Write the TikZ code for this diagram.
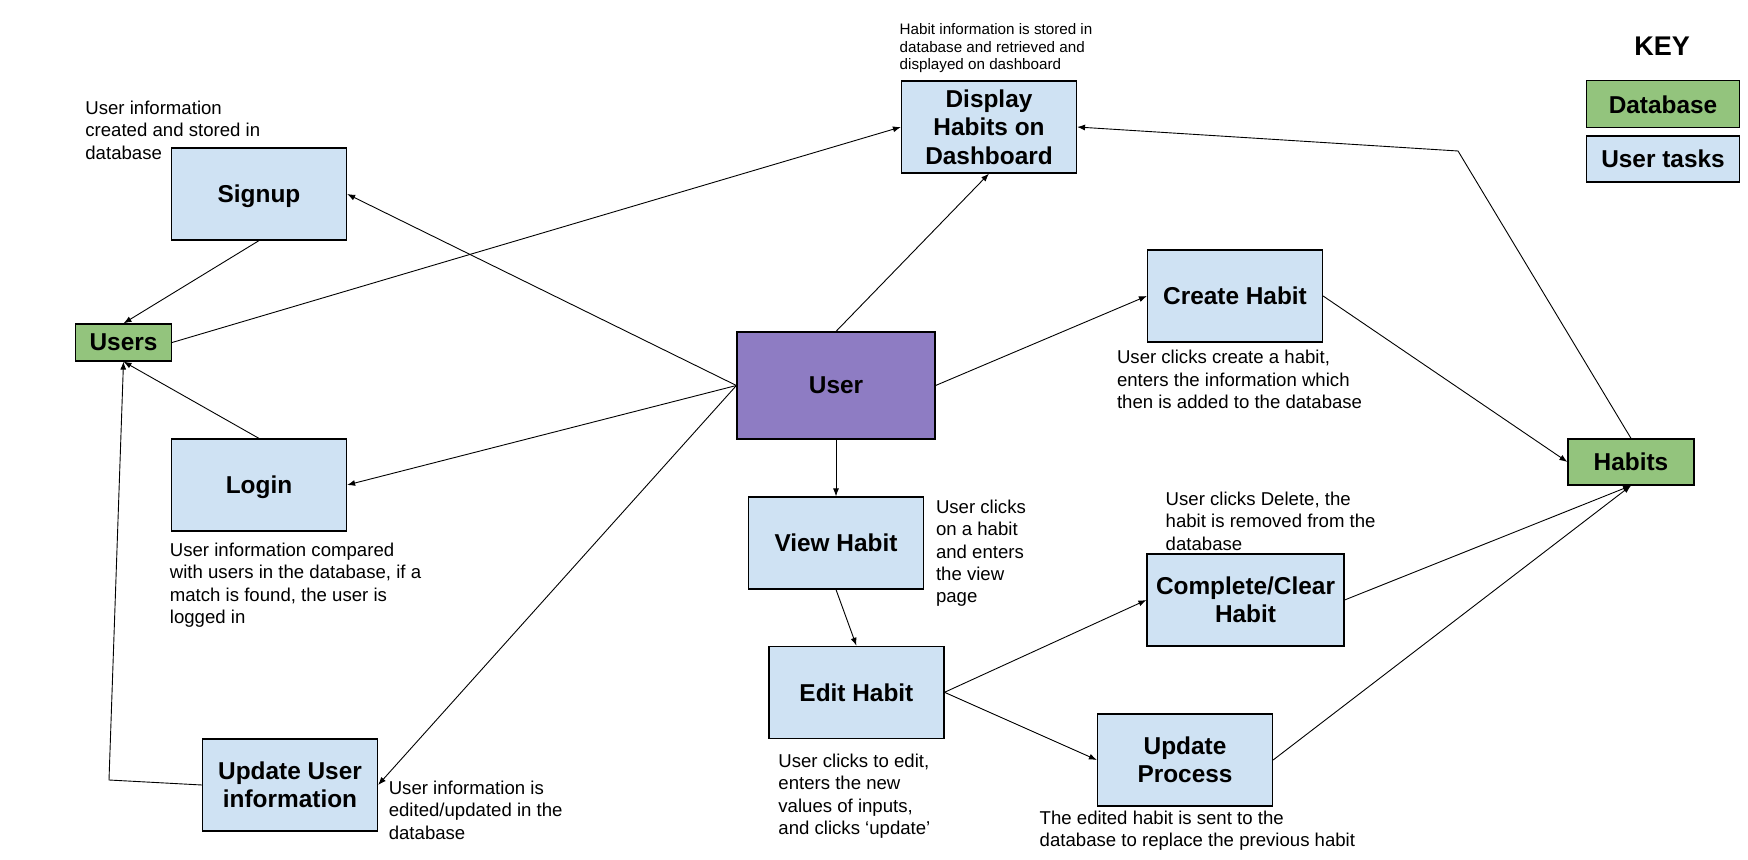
\documentclass[tikz,border=0pt]{standalone}
\usepackage{fontspec}
\setmainfont{Liberation Sans}
\usetikzlibrary{arrows.meta}
\definecolor{taskblue}{HTML}{CFE2F3}
\definecolor{dbgreen}{HTML}{93C47D}
\definecolor{userpurple}{HTML}{8E7CC3}

\begin{document}
\begin{tikzpicture}[x=0.5pt,y=-0.5pt]
\tikzstyle{every node}+=[inner sep=0pt]
\tikzstyle{tasknode}=[draw, line width=0.6pt, fill=taskblue, align=center, minimum width=87.5pt, minimum height=46pt, font=\bfseries\fontsize{12.2}{14.2}\selectfont]
\tikzstyle{dbnode}=[tasknode, fill=dbgreen]
\tikzstyle{notetext}=[anchor=north west, align=left, font=\fontsize{9.3}{11.2}\selectfont]
\tikzstyle{flow}=[-{Latex[length=4pt,width=3pt]}, line width=0.45pt]
\useasboundingbox (0,0) rectangle (1748,860);
% boxes
\node [tasknode, text depth=0.2pt] (signup) at (259,194) {Signup};
\node [dbnode, minimum width=48pt, minimum height=18.5pt] (users) at (123.5,342.5) {Users};
\node [tasknode, text depth=0.2pt] (login) at (259,485) {Login};
\node [tasknode] (upduser) at (290,785) {Update User\\information};
\node [tasknode] (display) at (989,127) {Display\\Habits on\\Dashboard};
\node [tasknode, fill=userpurple, minimum width=99pt, minimum height=53.5pt] (user) at (836,385.5) {User};
\node [tasknode] (create) at (1235,296) {Create Habit};
\node [tasknode] (view) at (836,543) {View Habit};
\node [tasknode] (edit) at (856.4,692.3) {Edit Habit};
\node [tasknode, minimum width=98.5pt] (complete) at (1245.5,600) {Complete/Clear\\Habit};
\node [tasknode] (process) at (1185,760) {Update\\Process};
\node [dbnode, minimum width=63pt, minimum height=23pt] (habits) at (1631,462) {Habits};
% key
\node [font=\bfseries\fontsize{13.5}{16}\selectfont] (key) at (1662,46.7) {KEY};
\node [dbnode, minimum width=76.5pt, minimum height=23.5pt] (keydb) at (1663,104.3) {Database};
\node [tasknode, minimum width=76.5pt, minimum height=23pt] (keytask) at (1663,159) {User tasks};
% notes
\node [notetext] (nsignup) at (85,100.5) {User information\\created and stored in\\database};
\node [notetext] (nlogin) at (169.5,542.5) {User information compared\\with users in the database, if a\\match is found, the user is\\logged in};
\node [notetext] (nupduser) at (388.4,780.5) {User information is\\edited/updated in the\\database};
\node [notetext, font=\fontsize{7.6}{8.75}\selectfont] (ndisplay) at (899.3,23.3) {Habit information is stored in\\database and retrieved and\\displayed on dashboard};
\node [notetext] (ncreate) at (1116.6,350) {User clicks create a habit,\\enters the information which\\then is added to the database};
\node [notetext] (nview) at (935.6,499.5) {User clicks\\on a habit\\and enters\\the view\\page};
\node [notetext] (nedit) at (778,753.5) {User clicks to edit,\\enters the new\\values of inputs,\\and clicks `update'};
\node [notetext] (ncomplete) at (1165.3,491.5) {User clicks Delete, the\\habit is removed from the\\database};
\node [notetext] (nprocess) at (1039.3,810.5) {The edited habit is sent to the\\database to replace the previous habit};
% bends
\coordinate (bendu) at (109,780);
\coordinate (bendh) at (1458,151);
% connectors
\draw [flow] (signup.south) -- (users.north);
\draw [flow] (users.east) -- (display.west);
\draw [flow] (user.west) -- (signup.east);
\draw [flow] (user.west) -- (login.east);
\draw [flow] (user.west) -- (upduser.east);
\draw [flow] (login.north) -- (users.south);
\draw [flow] (upduser.west) -- (bendu) -- (users.south);
\draw [flow] (user.north) -- (display.south);
\draw [flow] (user.east) -- (create.west);
\draw [flow] (create.east) -- (habits.west);
\draw [flow] (habits.north) -- (bendh) -- (display.east);
\draw [flow] (user.south) -- (view.north);
\draw [flow] (view.south) -- (edit.north);
\draw [flow] (edit.east) -- (complete.west);
\draw [flow] (edit.east) -- (process.west);
\draw [flow] (complete.east) -- (habits.south);
\draw [flow] (process.east) -- (habits.south);
\end{tikzpicture}
\end{document}
